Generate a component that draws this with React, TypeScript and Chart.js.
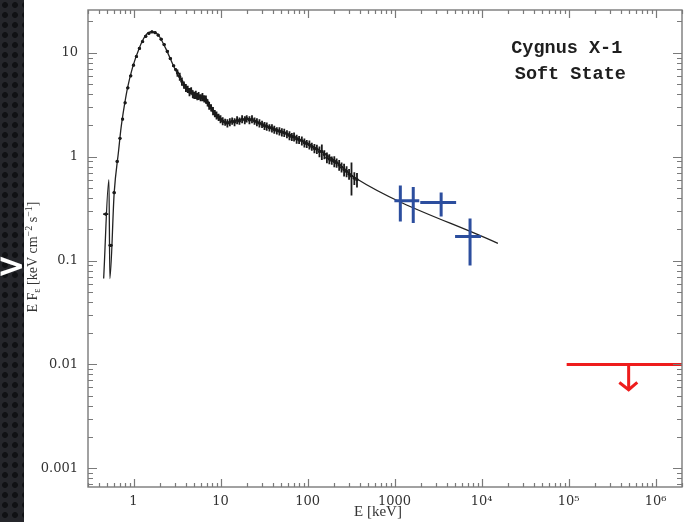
import React, { useEffect, useRef } from "react";
import { Chart, registerables } from "chart.js";
Chart.register(...registerables);

// ---- model curve (keV, E F_E) ----
const modelE = [0.454, 0.522, 0.535, 0.6, 0.674, 0.72, 0.79, 0.854, 0.974, 1.17, 1.37, 1.57, 1.88, 2.32, 2.94, 3.45, 4.37, 5.69, 6.66, 8.0, 9.6, 11.3, 14.7, 21, 28, 39, 55, 79, 112, 157, 228, 296, 347, 15400];
const modelF = [0.067, 0.6, 0.067, 0.45, 1.14, 1.9, 3.2, 4.6, 7.2, 11.2, 14.6, 15.9, 15.2, 11.2, 7.2, 5.6, 4.3, 3.86, 3.69, 2.9, 2.32, 2.12, 2.22, 2.32, 2.12, 1.9, 1.7, 1.49, 1.28, 1.07, 0.86, 0.7, 0.63, 0.146];

// ---- measured spectrum (keV, E F_E, % error) ----
const dataE = [
  0.48, 0.55, 0.6, 0.65, 0.7, 0.75, 0.8, 0.86, 0.93, 1.0, 1.08, 1.17, 1.27, 1.38, 1.5, 1.63, 1.77, 1.92, 2.08, 2.25, 2.45, 2.65, 2.9, 3.05,
  3.2, 3.4, 3.6, 3.8, 4.0, 4.2, 4.4, 4.6, 4.8, 5.0, 5.2, 5.4, 5.6, 5.9, 6.2, 6.5, 6.8, 7.1, 7.4, 7.8, 8.2, 8.6, 9.0, 9.5, 10,
  10.6, 11.3, 12, 12.8, 13.6, 14.5, 15.5, 16.5, 17.7, 19, 20, 21.5, 23, 24.6, 26.2, 28, 30, 32, 34, 36.5, 39, 41.5, 44.4, 47.5, 50.7,
  54, 58, 62, 66, 70, 75, 80, 86, 92, 98, 105, 112, 120, 128, 137, 146, 156, 167, 178, 190, 203, 216, 231, 246, 263, 281, 300, 320, 345, 370,
];
const dataF = [
  0.28, 0.14, 0.45, 0.9, 1.5, 2.3, 3.3, 4.6, 6.0, 7.6, 9.2, 11.0, 12.8, 14.4, 15.4, 15.9, 15.6, 14.8, 13.5, 12.0, 10.3, 8.8, 7.5, 6.9,
  6.4, 5.9, 5.3, 4.9, 4.6, 4.45, 4.2, 4.3, 4.0, 3.9, 3.95, 3.8, 3.85, 3.7, 3.75, 3.6, 3.55, 3.3, 3.1, 2.95, 2.75, 2.6, 2.5, 2.4, 2.3,
  2.2, 2.15, 2.1, 2.15, 2.2, 2.15, 2.25, 2.2, 2.3, 2.25, 2.32, 2.25, 2.3, 2.2, 2.15, 2.1, 2.05, 1.98, 1.95, 1.9, 1.88, 1.82, 1.78, 1.76, 1.72,
  1.7, 1.65, 1.6, 1.55, 1.55, 1.48, 1.45, 1.42, 1.36, 1.33, 1.3, 1.25, 1.2, 1.18, 1.12, 1.12, 1.05, 0.98, 0.95, 0.92, 0.9, 0.87, 0.83, 0.79, 0.75, 0.72, 0.68, 0.65, 0.62, 0.6,
];
const dataErrPct = [
  3, 3, 3, 3, 3, 3, 3, 3, 3, 3, 3, 3, 3, 3, 3, 3, 3, 3, 3, 3, 3, 3, 3, 3,
  8, 9, 9, 8, 9, 8, 9, 8, 9, 8, 9, 8, 9, 8, 9, 8, 9, 8, 9, 8, 9, 8, 9, 8, 9,
  9, 8, 9, 9, 8, 9, 9, 8, 9, 9, 8, 9, 9, 8, 9, 9, 8, 9, 9, 8, 9, 9, 8, 9, 9,
  9, 9, 10, 9, 10, 10, 9, 10, 10, 9, 10, 9, 10, 10, 12, 17, 10, 12, 11, 9, 12, 10, 12, 11, 14, 12, 12, 35, 14, 16,
];

// ---- blue MeV points ----
const blueE = [1165, 1640, 3430, 7370];
const blueELo = [995, 1365, 1974, 4960];
const blueEHi = [1365, 1923, 5100, 9840];
const blueF = [0.377, 0.377, 0.361, 0.17];
const blueFLo = [0.237, 0.23, 0.265, 0.0896];
const blueFHi = [0.526, 0.51, 0.451, 0.254];

// ---- red upper limit ----
const limitE = [9.5e4, 3e6];
const limitF = 0.01;
const arrowE = 4.9e5;
const arrowTipF = 0.0057;
const arrowHeadE = [3.83e5, 4.9e5, 6.16e5];
const arrowHeadF = [0.0067, 0.0057, 0.0067];

// ---- axes ----
const xTicks = [1, 10, 100, 1000, 1e4, 1e5, 1e6];
const xTickLabels = ["1", "10", "100", "1000", "10⁴", "10⁵", "10⁶"];
const yTicks = [0.001, 0.01, 0.1, 1, 10];
const yTickLabels = ["0.001", "0.01", "0.1", "1", "10"];
const xTitle = "E [keV]";
const yTitleParts = ["E F", "ε", " [keV cm", "−2", " s", "−1", "]"];
const yTitleKinds = ["n", "sub", "n", "sup", "n", "sup", "n"];
const titleLines = ["Cygnus X-1", "Soft State"];
const sideMark = ">";

const decorPlugin = {
  id: "decor",
  afterDatasetsDraw(chart: any) {
    const { ctx, chartArea: a } = chart;
    const xs = chart.scales.x;
    const ys = chart.scales.y;
    const X = (v: number) => xs.getPixelForValue(v);
    const Y = (v: number) => ys.getPixelForValue(v);
    ctx.save();
    ctx.beginPath();
    ctx.rect(a.left, a.top, a.right - a.left, a.bottom - a.top);
    ctx.clip();

    // black data error bars
    ctx.strokeStyle = "#1a1a1a";
    ctx.lineWidth = 1.8;
    ctx.beginPath();
    const n = dataE.length;
    for (let i = 0; i < n; i++) {
      const e = dataE[i];
      const f = dataF[i];
      const r = dataErrPct[i] / 100;
      const hi = i < n - 1 ? Math.sqrt(e * dataE[i + 1]) : e * Math.sqrt(e / dataE[i - 1]);
      const lo = i > 0 ? Math.sqrt(e * dataE[i - 1]) : e / Math.sqrt(dataE[i + 1] / e);
      ctx.moveTo(X(lo), Y(f));
      ctx.lineTo(X(hi), Y(f));
      ctx.moveTo(X(e), Y(f * (1 - r)));
      ctx.lineTo(X(e), Y(f * (1 + r)));
    }
    ctx.stroke();

    // blue crosses
    ctx.strokeStyle = "#2c4e9e";
    ctx.lineWidth = 3;
    ctx.lineCap = "butt";
    ctx.beginPath();
    for (let i = 0; i < blueE.length; i++) {
      ctx.moveTo(X(blueELo[i]), Y(blueF[i]));
      ctx.lineTo(X(blueEHi[i]), Y(blueF[i]));
      ctx.moveTo(X(blueE[i]), Y(blueFLo[i]));
      ctx.lineTo(X(blueE[i]), Y(blueFHi[i]));
    }
    ctx.stroke();

    // red upper limit
    ctx.strokeStyle = "#ee1c1c";
    ctx.lineWidth = 3;
    ctx.beginPath();
    ctx.moveTo(X(limitE[0]), Y(limitF));
    ctx.lineTo(X(limitE[1]), Y(limitF));
    ctx.moveTo(X(arrowE), Y(limitF));
    ctx.lineTo(X(arrowE), Y(arrowTipF));
    ctx.stroke();
    ctx.lineJoin = "miter";
    ctx.beginPath();
    arrowHeadE.forEach((e, i) => {
      if (i === 0) ctx.moveTo(X(e), Y(arrowHeadF[i]));
      else ctx.lineTo(X(e), Y(arrowHeadF[i]));
    });
    ctx.stroke();
    ctx.restore();
  },
  afterDraw(chart: any) {
    const { ctx, chartArea: a } = chart;
    const xs = chart.scales.x;
    const ys = chart.scales.y;
    ctx.save();
    // frame
    ctx.strokeStyle = "#7a7a7a";
    ctx.lineWidth = 1.4;
    ctx.strokeRect(a.left, a.top, a.right - a.left, a.bottom - a.top);
    // inward ticks on all four sides
    ctx.lineWidth = 1.2;
    ctx.beginPath();
    for (let d = Math.floor(Math.log10(xs.min)); d <= Math.ceil(Math.log10(xs.max)); d++) {
      for (let m = 1; m <= 9; m++) {
        const v = m * Math.pow(10, d);
        if (v <= xs.min || v >= xs.max) continue;
        const px = Math.round(xs.getPixelForValue(v)) + 0.5;
        const len = m === 1 ? 8 : 4;
        ctx.moveTo(px, a.bottom);
        ctx.lineTo(px, a.bottom - len);
        ctx.moveTo(px, a.top);
        ctx.lineTo(px, a.top + len);
      }
    }
    for (let d = Math.floor(Math.log10(ys.min)); d <= Math.ceil(Math.log10(ys.max)); d++) {
      for (let m = 1; m <= 9; m++) {
        const v = m * Math.pow(10, d);
        if (v <= ys.min || v >= ys.max) continue;
        const py = Math.round(ys.getPixelForValue(v)) + 0.5;
        const len = m === 1 ? 9 : 5;
        ctx.moveTo(a.left, py);
        ctx.lineTo(a.left + len, py);
        ctx.moveTo(a.right, py);
        ctx.lineTo(a.right - len, py);
      }
    }
    ctx.stroke();

    // annotation
    const w = a.right - a.left;
    const h = a.bottom - a.top;
    ctx.fillStyle = "#1e1e1e";
    ctx.font = "bold 18.5px 'Liberation Mono'";
    ctx.textAlign = "center";
    ctx.textBaseline = "middle";
    ctx.fillText(titleLines[0], a.left + 0.806 * w, a.top + 0.08 * h);
    ctx.fillText(titleLines[1], a.left + 0.812 * w, a.top + 0.135 * h);

    // x title
    ctx.fillStyle = "#333";
    ctx.font = "15px 'Liberation Serif'";
    ctx.fillText(xTitle, 378, 512);

    // y title (rotated, with sub/superscripts)
    ctx.save();
    ctx.translate(33, 257);
    ctx.rotate(-Math.PI / 2);
    const big = "14px 'Liberation Serif'";
    const small = "10px 'Liberation Serif'";
    let total = 0;
    const widths = yTitleParts.map((t, i) => {
      ctx.font = yTitleKinds[i] === "n" ? big : small;
      const m = ctx.measureText(t).width;
      total += m;
      return m;
    });
    let x = -total / 2;
    ctx.textAlign = "left";
    yTitleParts.forEach((t, i) => {
      const k = yTitleKinds[i];
      ctx.font = k === "n" ? big : small;
      const dy = k === "sub" ? 4 : k === "sup" ? -4 : 0;
      ctx.fillText(t, x, dy);
      x += widths[i];
    });
    ctx.restore();

    // side marker on the dark strip
    ctx.fillStyle = "#ffffff";
    ctx.font = "bold 34px 'DejaVu Sans'";
    ctx.textAlign = "left";
    ctx.textBaseline = "middle";
    ctx.fillText(sideMark, -3, 268);
    ctx.restore();
  },
};

export default function App() {
  const ref = useRef<HTMLCanvasElement>(null);
  useEffect(() => {
    const chart = new Chart(ref.current as HTMLCanvasElement, {
      type: "scatter",
      data: {
        datasets: [
          {
            type: "line",
            label: "model",
            data: modelE.map((e, i) => ({ x: e, y: modelF[i] })),
            borderColor: "#222",
            borderWidth: 1.3,
            pointRadius: 0,
            cubicInterpolationMode: "monotone",
            fill: false,
          } as any,
          {
            label: "data",
            data: dataE.map((e, i) => ({ x: e, y: dataF[i] })),
            pointRadius: 1.6,
            backgroundColor: "#1a1a1a",
            borderWidth: 0,
          },
        ],
      },
      options: {
        responsive: false,
        animation: false,
        events: [],
        layout: { padding: { top: 10, right: 8, left: 0, bottom: 0 } },
        plugins: { legend: { display: false }, tooltip: { enabled: false } },
        scales: {
          x: {
            type: "logarithmic",
            min: 0.322,
            max: 2.01e6,
            grid: { display: false, drawTicks: false },
            border: { display: false },
            afterBuildTicks: (s: any) => {
              s.ticks = xTicks.map((v) => ({ value: v }));
            },
            afterFit: (s: any) => {
              s.height = 35;
              s.paddingLeft = 0;
              s.paddingRight = 0;
            },
            ticks: {
              autoSkip: false,
              maxRotation: 0,
              padding: 7,
              color: "#333",
              font: { family: "'DejaVu Serif'", size: 13 },
              callback: (_v: any, i: number) => xTickLabels[i],
            },
          },
          y: {
            type: "logarithmic",
            min: 0.00066,
            max: 25.8,
            grid: { display: false, drawTicks: false },
            border: { display: false },
            afterBuildTicks: (s: any) => {
              s.ticks = yTicks.map((v) => ({ value: v }));
            },
            afterFit: (s: any) => {
              s.width = 88;
              s.paddingTop = 0;
              s.paddingBottom = 0;
            },
            ticks: {
              autoSkip: false,
              padding: 10,
              color: "#333",
              font: { family: "'DejaVu Serif'", size: 13 },
              callback: (_v: any, i: number) => yTickLabels[i],
            },
          },
        },
      },
      plugins: [decorPlugin],
    });
    return () => chart.destroy();
  }, []);

  return (
    <div style={{ position: "fixed", left: 0, top: 0, width: 690, height: 522, background: "#fff", overflow: "hidden" }}>
      <div
        style={{
          position: "absolute",
          left: 0,
          top: 0,
          width: 24,
          height: 522,
          backgroundColor: "#25262b",
          backgroundImage: "radial-gradient(circle, #101114 38%, transparent 45%)",
          backgroundSize: "10px 10px",
        }}
      />
      <canvas ref={ref} width={690} height={522} style={{ position: "absolute", left: 0, top: 0 }} />
    </div>
  );
}
